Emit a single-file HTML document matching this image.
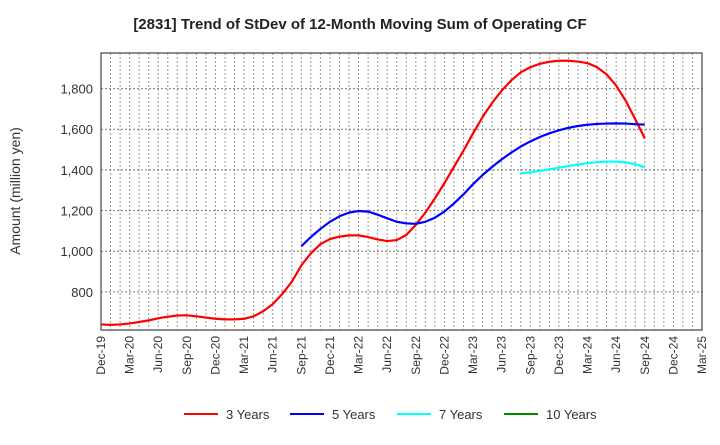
<!DOCTYPE html>
<html><head><meta charset="utf-8"><style>
body{margin:0;background:#fff;font-family:"Liberation Sans",sans-serif;}
</style></head><body>
<svg id="chart" width="720" height="440" xmlns="http://www.w3.org/2000/svg">
<text x="360" y="29" text-anchor="middle" font-size="15" font-weight="bold" fill="#222">[2831]  Trend of StDev of 12-Month Moving Sum of Operating CF</text>
<text transform="translate(20,191) rotate(-90)" text-anchor="middle" font-size="14" fill="#333">Amount (million yen)</text>
<g id="grid"></g><g id="axes"></g><g id="series"></g><g id="legend"></g>
</svg>
<script>
const months=["Dec-19","Mar-20","Jun-20","Sep-20","Dec-20","Mar-21","Jun-21","Sep-21","Dec-21","Mar-22","Jun-22","Sep-22","Dec-22","Mar-23","Jun-23","Sep-23","Dec-23","Mar-24","Jun-24","Sep-24","Dec-24","Mar-25"];
const yTicks=[800,1000,1200,1400,1600,1800];
const red=[640,638,640,645,652,660,670,678,684,685,680,674,668,665,665,668,680,705,740,790,850,930,990,1035,1060,1072,1078,1078,1070,1058,1050,1055,1080,1130,1190,1260,1335,1415,1495,1580,1660,1730,1790,1840,1880,1905,1922,1932,1937,1937,1933,1925,1905,1870,1815,1740,1650,1555];
const blueStart=21;
const blue=[1025,1070,1110,1145,1172,1190,1198,1195,1180,1162,1145,1137,1135,1145,1165,1195,1235,1280,1330,1375,1415,1452,1485,1515,1540,1562,1580,1595,1607,1616,1622,1626,1628,1629,1628,1625,1623];
const cyanStart=44;
const cyan=[1383,1388,1395,1403,1411,1419,1427,1433,1438,1441,1441,1437,1428,1412];
const L=101,R=702,T=53,B=330,NM=63,YMIN=612.7,YMAX=1975;
const X=i=>L+i*(R-L)/NM, Y=v=>B-(v-YMIN)*(B-T)/(YMAX-YMIN);
const NS="http://www.w3.org/2000/svg";
function mk(t,a,p){const e=document.createElementNS(NS,t);for(const k in a)e.setAttribute(k,a[k]);p.appendChild(e);return e;}
const g=document.getElementById('grid'),ax=document.getElementById('axes'),s=document.getElementById('series'),lg=document.getElementById('legend');
for(let i=1;i<NM;i++){const l=mk('line',{x1:X(i),x2:X(i),y1:T,y2:B,stroke:'#999','stroke-dasharray':'2,2','stroke-width':1},g);

}
yTicks.forEach(v=>{const l=mk('line',{x1:L,x2:R,y1:Y(v),y2:Y(v),stroke:'#777','stroke-dasharray':'2,2','stroke-width':1},g);


const t=mk('text',{x:L-8,y:Y(v)+5,'text-anchor':'end','font-size':'13',fill:'#333'},ax);t.textContent=v.toLocaleString('en-US');

});
const fr=mk('rect',{x:L,y:T,width:R-L,height:B-T,fill:'none',stroke:'#444','stroke-width':1.2},ax);


months.forEach((m,k)=>{const x=X(k*3);const t=mk('text',{transform:`translate(${x+4},${B+6}) rotate(-90)`,'text-anchor':'end','font-size':'12',fill:'#333'},ax);t.textContent=m;

});
function line(arr,start,col,name){const p=mk('polyline',{points:arr.map((v,i)=>X(start+i)+','+Y(v)).join(' '),fill:'none',stroke:col,'stroke-width':2.2,'stroke-linejoin':'round'},s);

}
line(red,0,'#f00','series-3-years');
line(blue,blueStart,'#00f','series-5-years');
line(cyan,cyanStart,'#0ff','series-7-years');
const leg=[['3 Years','#f00',184],['5 Years','#00f',290],['7 Years','#0ff',397],['10 Years','#080',504]];
leg.forEach(([n,c,x])=>{const gg=mk('g',{},lg);


mk('line',{x1:x,x2:x+34,y1:414,y2:414,stroke:c,'stroke-width':2},gg);
const t=mk('text',{x:x+42,y:419,'font-size':'13',fill:'#333'},gg);t.textContent=n;});
</script>
</body></html>
